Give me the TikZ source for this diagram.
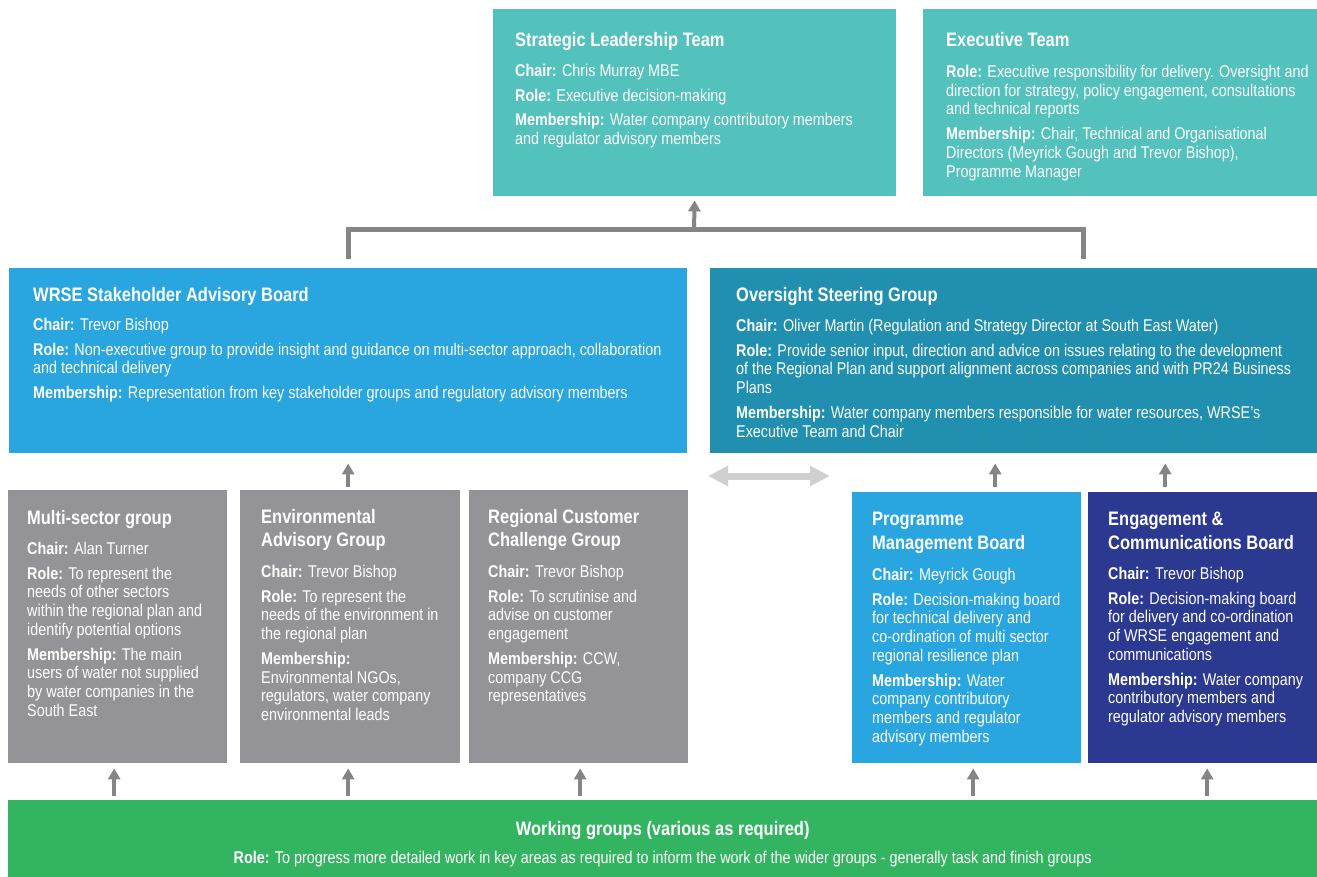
\documentclass[tikz,border=0pt]{standalone}
\usepackage{fontspec}
\setmainfont{Liberation Sans}[FakeStretch=0.845]
\usetikzlibrary{arrows.meta,calc}
\definecolor{cTeal}{HTML}{53C1BC}
\definecolor{cBlue}{HTML}{29A6E0}
\definecolor{cOSG}{HTML}{2190B0}
\definecolor{cGray}{HTML}{949397}
\definecolor{cNavy}{HTML}{2B3990}
\definecolor{cGreen}{HTML}{33B460}
\definecolor{cArr}{HTML}{858585}
\definecolor{cDbl}{HTML}{D0D0D0}
\tikzset{
  box/.style={rectangle, draw=none, inner sep=0pt, anchor=north west},
  head/.style={anchor=north west, inner sep=0pt, align=left, text=white,
    font=\bfseries\fontsize{19.5}{23.5}\selectfont},
  body/.style={anchor=north west, inner sep=0pt, align=left, text=white,
    font=\fontsize{17}{18.7}\selectfont},
  arr/.style={draw=cArr, line width=4pt, -{Triangle[width=12pt,length=11pt]}},
  brk/.style={draw=cArr, line width=5pt, line join=miter},
  dbl/.style={draw=cDbl, line width=7pt, {Triangle[width=19pt,length=20pt]}-{Triangle[width=19pt,length=20pt]}}
}
\newcommand{\lb}[1]{\textbf{#1}}
\begin{document}
\begin{tikzpicture}[x=1pt,y=-1pt]
\useasboundingbox (0,0) rectangle (1317,877);
% boxes
\node[box, fill=cTeal, minimum width=403pt, minimum height=187pt] (slt) at (493,9) {};
\node[box, fill=cTeal, minimum width=394pt, minimum height=187pt] (ext) at (923,9) {};
\node[box, fill=cBlue, minimum width=678pt, minimum height=185pt] (sab) at (9,268) {};
\node[box, fill=cOSG, minimum width=607pt, minimum height=185pt] (osg) at (710,268) {};
\node[box, fill=cGray, minimum width=219pt, minimum height=273pt] (ms) at (8,490) {};
\node[box, fill=cGray, minimum width=220pt, minimum height=273pt] (env) at (240,490) {};
\node[box, fill=cGray, minimum width=219pt, minimum height=273pt] (rccg) at (469,490) {};
\node[box, fill=cBlue, minimum width=229pt, minimum height=271pt] (pmb) at (852,492) {};
\node[box, fill=cNavy, minimum width=229pt, minimum height=271pt] (ecb) at (1088,492) {};
\node[box, fill=cGreen, minimum width=1309pt, minimum height=77pt] (wg) at (8,800) {};

% texts
\node[head] (sltH) at (515,32) {Strategic Leadership Team};
\node[body] (sltB) at (515,64) {\lb{Chair:} Chris Murray MBE\\[6pt]
  \lb{Role:} Executive decision-making\\[6pt]
  \lb{Membership:} Water company contributory members\\
  and regulator advisory members};

\node[head] (extH) at (946,32) {Executive Team};
\node[body] (extB) at (946,65) {\lb{Role:} Executive responsibility for delivery. Oversight and\\
  direction for strategy, policy engagement, consultations\\
  and technical reports\\[6pt]
  \lb{Membership:} Chair, Technical and Organisational\\
  Directors (Meyrick Gough and Trevor Bishop),\\
  Programme Manager};

\node[head] (sabH) at (33,287) {WRSE Stakeholder Advisory Board};
\node[body] (sabB) at (33,318) {\lb{Chair:} Trevor Bishop\\[6pt]
  \lb{Role:} Non-executive group to provide insight and guidance on multi-sector approach, collaboration\\
  and technical delivery\\[6pt]
  \lb{Membership:} Representation from key stakeholder groups and regulatory advisory members};

\node[head] (osgH) at (736,287) {Oversight Steering Group};
\node[body] (osgB) at (736,319) {\lb{Chair:} Oliver Martin (Regulation and Strategy Director at South East Water)\\[6pt]
  \lb{Role:} Provide senior input, direction and advice on issues relating to the development\\
  of the Regional Plan and support alignment across companies and with PR24 Business\\
  Plans\\[6pt]
  \lb{Membership:} Water company members responsible for water resources, WRSE’s\\
  Executive Team and Chair};

\node[head] (msH) at (27,510) {Multi-sector group};
\node[body] (msB) at (27,542) {\lb{Chair:} Alan Turner\\[6pt]
  \lb{Role:} To represent the\\
  needs of other sectors\\
  within the regional plan and\\
  identify potential options\\[6pt]
  \lb{Membership:} The main\\
  users of water not supplied\\
  by water companies in the\\
  South East};

\node[head] (envH) at (261,509) {Environmental\\Advisory Group};
\node[body] (envB) at (261,565) {\lb{Chair:} Trevor Bishop\\[6pt]
  \lb{Role:} To represent the\\
  needs of the environment in\\
  the regional plan\\[6pt]
  \lb{Membership:}\\
  Environmental NGOs,\\
  regulators, water company\\
  environmental leads};

\node[head] (rccgH) at (488,509) {Regional Customer\\Challenge Group};
\node[body] (rccgB) at (488,565) {\lb{Chair:} Trevor Bishop\\[6pt]
  \lb{Role:} To scrutinise and\\
  advise on customer\\
  engagement\\[6pt]
  \lb{Membership:} CCW,\\
  company CCG\\
  representatives};

\node[head] (pmbH) at (872,512) {Programme\\Management Board};
\node[body] (pmbB) at (872,568) {\lb{Chair:} Meyrick Gough\\[6pt]
  \lb{Role:} Decision-making board\\
  for technical delivery and\\
  co-ordination of multi sector\\
  regional resilience plan\\[6pt]
  \lb{Membership:} Water\\
  company contributory\\
  members and regulator\\
  advisory members};

\node[head] (ecbH) at (1108,512) {Engagement \&\\Communications Board};
\node[body] (ecbB) at (1108,567) {\lb{Chair:} Trevor Bishop\\[6pt]
  \lb{Role:} Decision-making board\\
  for delivery and co-ordination\\
  of WRSE engagement and\\
  communications\\[6pt]
  \lb{Membership:} Water company\\
  contributory members and\\
  regulator advisory members};

\node[head, anchor=north] (wgH) at (wg.north |- 0,821) {Working groups (various as required)};
\node[body, anchor=north] (wgB) at (wg.north |- 0,851) {\lb{Role:} To progress more detailed work in key areas as required to inform the work of the wider groups - generally task and finish groups};

% bracket and connectors
\coordinate (top) at (694,230);
\coordinate (rleg) at (1083,259);
\draw[brk] ([yshift=9pt]sab.north) |- (top) -| (rleg);
\draw[arr, shorten >=4pt] (top) -- (slt.south);

\draw[arr, shorten <=3pt, shorten >=10pt] (sab.south |- env.north) -- (sab.south);
\draw[arr, shorten <=5pt, shorten >=10pt] ([xshift=28.5pt]pmb.north) -- ([xshift=28.5pt]pmb.north |- osg.south);
\draw[arr, shorten <=5pt, shorten >=10pt] ([xshift=-37.5pt]ecb.north) -- ([xshift=-37.5pt]ecb.north |- osg.south);

\coordinate (dl) at (708,476);
\coordinate (dr) at (830,476);
\draw[dbl] (dl) -- (dr);

\draw[arr, shorten <=4pt, shorten >=5pt] ([xshift=-3.5pt]ms.south |- wg.north) -- ([xshift=-3.5pt]ms.south);
\draw[arr, shorten <=4pt, shorten >=5pt] ([xshift=-2pt]env.south |- wg.north) -- ([xshift=-2pt]env.south);
\draw[arr, shorten <=4pt, shorten >=5pt] ([xshift=1.5pt]rccg.south |- wg.north) -- ([xshift=1.5pt]rccg.south);
\draw[arr, shorten <=4pt, shorten >=5pt] ([xshift=6.5pt]pmb.south |- wg.north) -- ([xshift=6.5pt]pmb.south);
\draw[arr, shorten <=4pt, shorten >=5pt] ([xshift=4.5pt]ecb.south |- wg.north) -- ([xshift=4.5pt]ecb.south);
\end{tikzpicture}
\end{document}
